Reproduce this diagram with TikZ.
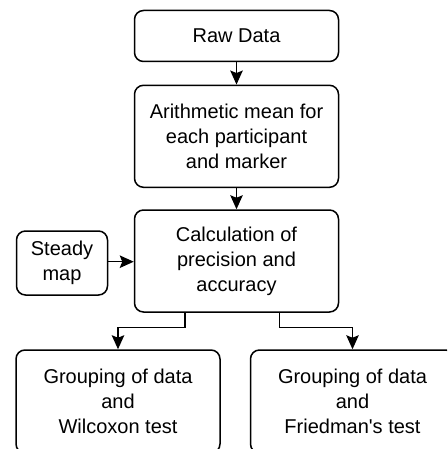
\documentclass[tikz,border=0pt]{standalone}
\usepackage{fontspec}
\setmainfont{Liberation Sans}
\usetikzlibrary{arrows.meta,calc}
\newcommand{\straightquote}{\XeTeXglyph\XeTeXglyphindex "quotesingle"\relax}
\begin{document}
\begin{tikzpicture}[x=1pt,y=1pt,
  box/.style={draw, line width=1.5pt, rounded corners=9pt, align=center,
    inner sep=0pt, font=\fontsize{20}{25}\selectfont},
  conn/.style={line width=1.5pt, -{Stealth[length=14pt,width=12.5pt,inset=2.5pt]}}]
\useasboundingbox (0,0) rectangle (447,-449);
\clip (0,0) rectangle (447,-449);
\node[box, minimum width=204pt, minimum height=51pt] (raw) at (236.5,-36) {Raw Data};
\node[box, minimum width=204pt, minimum height=102pt] (mean) at (236.5,-136.3) {Arithmetic mean for\\each participant\\and marker};
\node[box, minimum width=204pt, minimum height=102pt] (calc) at (236.5,-261) {Calculation of\\precision and\\accuracy};
\node[box, minimum width=91pt, minimum height=64pt] (steady) at (62,-263) {Steady\\map};
\node[box, minimum width=204pt, minimum height=103pt] (wil) at (118,-401.5) {Grouping of data\\and\\Wilcoxon test};
\node[box, minimum width=204pt, minimum height=103pt] (fri) at (352.5,-401.5) {Grouping of data\\and\\Friedman\straightquote s test};
\draw[conn] (raw) -- (mean);
\draw[conn] (mean) -- (calc);
\draw[conn] (steady.east |- 0,-261.7) -- (calc.west |- 0,-261.7);
\coordinate (cl) at ($(calc.south)+(-51.5,0)$);
\coordinate (cr) at ($(calc.south)+(42.8,0)$);
\draw[conn] (cl) -- ++(0,-14.7) -| (wil.north);
\draw[conn] (cr) -- ++(0,-14.7) -| (fri.north);
\end{tikzpicture}
\end{document}
